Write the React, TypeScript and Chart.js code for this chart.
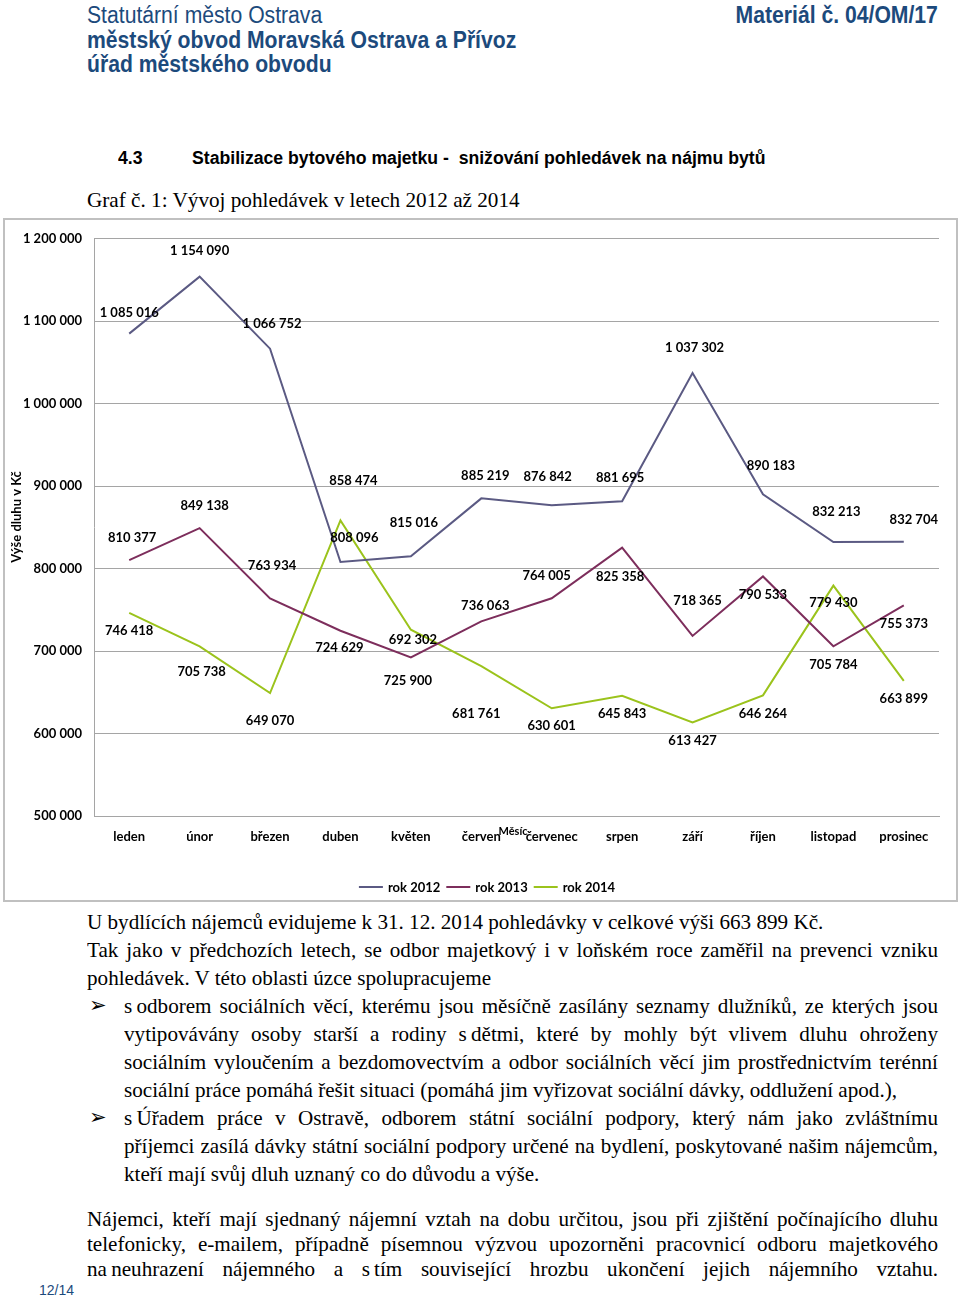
import React, { useEffect, useRef } from "react";
import { Chart, registerables } from "chart.js";
Chart.register(...registerables);

// ---------- data ----------
const months = ["leden", "únor", "březen", "duben", "květen", "červen", "červenec", "srpen", "září", "říjen", "listopad", "prosinec"];
const seriesNames = ["rok 2012", "rok 2013", "rok 2014"];
const rok2012 = [1085016, 1154090, 1066752, 808096, 815016, 885219, 876842, 881695, 1037302, 890183, 832213, 832704];
const rok2013 = [810377, 849138, 763934, 724629, 692302, 736063, 764005, 825358, 718365, 790533, 705784, 755373];
const rok2014 = [746418, 705738, 649070, 858474, 725900, 681761, 630601, 645843, 613427, 646264, 779430, 663899];
const yMin = 500000;
const yMax = 1200000;
const yStep = 100000;
const yTitle = "Výše dluhu v Kč";
const xTitle = "Měsíc";

// label placement (dx, dy from the point) – layout only
const off2012 = [[0, -21], [0, -26], [2, -25], [14, -24], [3, -33], [4, -23], [-4, -28], [-2, -23], [2, -25], [8, -28], [3, -30], [10, -22]];
const off2013 = [[3, -22], [5, -22], [2, -33], [-1, 17], [2, -18], [4, -16], [-5, -22], [-2, 29], [5, -35], [0, 18], [0, 18], [0, 18]];
const off2014 = [[0, 18], [2, 25], [0, 28], [13, -40], [-3, 51], [-5, 48], [0, 18], [0, 18], [0, 18], [0, 18], [0, 17], [0, 18]];

const COLORS = ["#5b5a83", "#7d2e5c", "#9bc31c"];
const GRID = "#a5a5a5";
const CFONT = "Lato, 'Open Sans', sans-serif";
const SANS = "'Liberation Sans', Arial, sans-serif";
const SERIF = "'Liberation Serif', 'Times New Roman', serif";
const BLUE = "#1c4a7c";

const fmt = (n: number) => String(n).replace(/\B(?=(\d{3})+(?!\d))/g, " ");

const pagePlugin = {
  id: "pagePlugin",
  beforeDraw(chart: any) {
    const ctx = chart.ctx;
    ctx.save();
    ctx.translate(17, 298);
    ctx.rotate(-Math.PI / 2);
    ctx.font = `bold 13px ${CFONT}`;
    ctx.fillStyle = "#000";
    ctx.textAlign = "center";
    ctx.textBaseline = "middle";
    ctx.fillText(yTitle, 0, 0);
    ctx.restore();
    ctx.save();
    ctx.font = `bold 11px ${CFONT}`;
    ctx.fillStyle = "#000";
    ctx.textAlign = "center";
    ctx.textBaseline = "middle";
    ctx.fillText(xTitle, 513, 612);
    ctx.restore();
  },
  afterDatasetsDraw(chart: any) {
    const ctx = chart.ctx;
    const offs = [off2012, off2013, off2014];
    ctx.save();
    ctx.font = `bold 13px ${CFONT}`;
    ctx.fillStyle = "#000";
    ctx.textAlign = "center";
    ctx.textBaseline = "middle";
    chart.data.datasets.forEach((ds: any, di: number) => {
      const meta = chart.getDatasetMeta(di);
      meta.data.forEach((pt: any, i: number) => {
        const o = offs[di][i];
        ctx.fillText(fmt(ds.data[i]), pt.x + o[0], pt.y + o[1]);
      });
    });
    ctx.restore();
  },
  afterDraw(chart: any) {
    const ctx = chart.ctx;
    ctx.save();
    ctx.font = `bold 13px ${CFONT}`;
    ctx.textBaseline = "middle";
    ctx.textAlign = "left";
    const lineW = 24, gap1 = 5, gap2 = 6;
    const widths = seriesNames.map((s) => lineW + gap1 + ctx.measureText(s).width);
    const total = widths.reduce((a, b) => a + b, 0) + gap2 * (widths.length - 1);
    let x = 487 - total / 2;
    const y = 668;
    seriesNames.forEach((s, i) => {
      ctx.strokeStyle = COLORS[i];
      ctx.lineWidth = 2;
      ctx.beginPath();
      ctx.moveTo(x, y);
      ctx.lineTo(x + lineW, y);
      ctx.stroke();
      ctx.fillStyle = "#000";
      ctx.fillText(s, x + lineW + gap1, y + 1);
      x += widths[i] + gap2;
    });
    ctx.restore();
  },
};

function ChartBox() {
  const ref = useRef<HTMLCanvasElement>(null);
  useEffect(() => {
    const series = [rok2012, rok2013, rok2014];
    const chart = new Chart(ref.current as HTMLCanvasElement, {
      type: "line",
      data: {
        labels: months,
        datasets: series.map((d, i) => ({
          label: seriesNames[i],
          data: d,
          borderColor: COLORS[i],
          backgroundColor: COLORS[i],
          borderWidth: 2,
          pointRadius: 0,
          tension: 0,
          fill: false,
        })),
      },
      options: {
        responsive: false,
        animation: false,
        devicePixelRatio: 1,
        layout: { padding: { left: 0, right: 21, top: 18, bottom: 0 } },
        plugins: { legend: { display: false }, tooltip: { enabled: false } },
        scales: {
          x: {
            offset: true,
            grid: { display: false, drawTicks: false },
            border: { display: true, color: GRID, width: 1 },
            ticks: { color: "#000", font: { family: CFONT, size: 13, weight: "bold" }, padding: 13, maxRotation: 0, autoSkip: false },
            afterFit: (s: any) => { s.height = 83; },
          },
          y: {
            min: yMin,
            max: yMax,
            ticks: { stepSize: yStep, callback: (v: any) => fmt(Number(v)), color: "#000", font: { family: CFONT, size: 13, weight: "bold" }, padding: 12 },
            grid: { color: GRID, drawTicks: false, lineWidth: 1 },
            border: { display: true, color: GRID, width: 1 },
            afterFit: (s: any) => { s.width = 94; },
          },
        },
      } as any,
      plugins: [pagePlugin as any],
    });
    return () => chart.destroy();
  }, []);
  return (
    <canvas ref={ref} width={960} height={680} style={{ position: "absolute", left: 0, top: 219, width: 960, height: 680, display: "block" }} />
  );
}

type TP = { x: number; y: number; size: number; family?: string; weight?: any; color?: string; sx?: number; w?: number; right?: boolean; children: React.ReactNode };
function T({ x, y, size, family = SANS, weight = "normal", color = "#000", sx = 1, w, right, children }: TP) {
  const style: React.CSSProperties = {
    position: "absolute",
    top: y - size / 2,
    fontSize: size,
    fontFamily: family,
    fontWeight: weight,
    color,
    lineHeight: 1,
    whiteSpace: w ? "normal" : "nowrap",
    transform: sx !== 1 ? `scaleX(${sx})` : undefined,
    transformOrigin: right ? "right top" : "left top",
  };
  if (right) style.right = 960 - x;
  else style.left = x;
  if (w) {
    style.width = w / sx;
    style.textAlign = "justify";
    (style as any).textAlignLast = "justify";
  }
  return <div style={style}>{children}</div>;
}

const BF = 21;
const BSX = 1.006;
const HS = 23;
const HSX = 0.92;
const NB = "\u202F";

export default function App() {
  return (
    <div style={{ position: "absolute", left: 0, top: 0, width: 960, height: 1297, background: "#fff", overflow: "hidden" }}>
      <T x={87} y={15} size={HS} sx={HSX} color={BLUE}>Statutární město Ostrava</T>
      <T x={87} y={40} size={HS} sx={HSX} color={BLUE} weight="bold">městský obvod Moravská Ostrava a Přívoz</T>
      <T x={87} y={64} size={HS} sx={HSX} color={BLUE} weight="bold">úřad městského obvodu</T>
      <T x={938} y={15} size={HS} sx={HSX} color={BLUE} weight="bold" right>Materiál č. 04/OM/17</T>

      <T x={118} y={158} size={18} sx={0.98} weight="bold">4.3</T>
      <T x={192} y={158} size={18} sx={0.98} weight="bold">Stabilizace bytového majetku -&nbsp; snižování pohledávek na nájmu bytů</T>
      <T x={87} y={201} size={21.2} family={SERIF}>Graf č. 1: Vývoj pohledávek v letech 2012 až 2014</T>

      <div style={{ position: "absolute", left: 3, top: 218, width: 955, height: 684, border: "2px solid #c0c0c0", boxSizing: "border-box" }} />
      <ChartBox />

      <T x={87} y={922} size={BF} family={SERIF} sx={BSX}>U bydlících nájemců evidujeme k 31. 12. 2014 pohledávky v celkové výši 663 899 Kč.</T>
      <T x={87} y={950} size={BF} family={SERIF} sx={BSX} w={851}>Tak jako v předchozích letech, se odbor majetkový i v loňském roce zaměřil na prevenci vzniku</T>
      <T x={87} y={978} size={BF} family={SERIF} sx={BSX}>pohledávek. V této oblasti úzce spolupracujeme</T>
      <T x={89} y={1005} size={21} family="'DejaVu Sans', sans-serif">➢</T>
      <T x={124} y={1006} size={BF} family={SERIF} sx={BSX} w={814}>{`s${NB}odborem sociálních věcí, kterému jsou měsíčně zasílány seznamy dlužníků, ze kterých jsou`}</T>
      <T x={124} y={1034} size={BF} family={SERIF} sx={BSX} w={814}>{`vytipovávány osoby starší a rodiny s${NB}dětmi, které by mohly být vlivem dluhu ohroženy`}</T>
      <T x={124} y={1062} size={BF} family={SERIF} sx={BSX} w={814}>sociálním vyloučením a bezdomovectvím a odbor sociálních věcí jim prostřednictvím terénní</T>
      <T x={124} y={1090} size={BF} family={SERIF} sx={BSX}>sociální práce pomáhá řešit situaci (pomáhá jim vyřizovat sociální dávky, oddlužení apod.),</T>
      <T x={89} y={1117} size={21} family="'DejaVu Sans', sans-serif">➢</T>
      <T x={124} y={1118} size={BF} family={SERIF} sx={BSX} w={814}>{`s${NB}Úřadem práce v Ostravě, odborem státní sociální podpory, který nám jako zvláštnímu`}</T>
      <T x={124} y={1146} size={BF} family={SERIF} sx={BSX} w={814}>příjemci zasílá dávky státní sociální podpory určené na bydlení, poskytované našim nájemcům,</T>
      <T x={124} y={1174} size={BF} family={SERIF} sx={BSX}>kteří mají svůj dluh uznaný co do důvodu a výše.</T>
      <T x={87} y={1219} size={BF} family={SERIF} sx={BSX} w={851}>Nájemci, kteří mají sjednaný nájemní vztah na dobu určitou, jsou při zjištění počínajícího dluhu</T>
      <T x={87} y={1244} size={BF} family={SERIF} sx={BSX} w={851}>telefonicky, e-mailem, případně písemnou výzvou upozorněni pracovnicí odboru majetkového</T>
      <T x={87} y={1269} size={BF} family={SERIF} sx={BSX} w={851}>{`na${NB}neuhrazení nájemného a s${NB}tím související hrozbu ukončení jejich nájemního vztahu.`}</T>
      <T x={39} y={1290} size={14} color={BLUE}>12/14</T>
    </div>
  );
}
